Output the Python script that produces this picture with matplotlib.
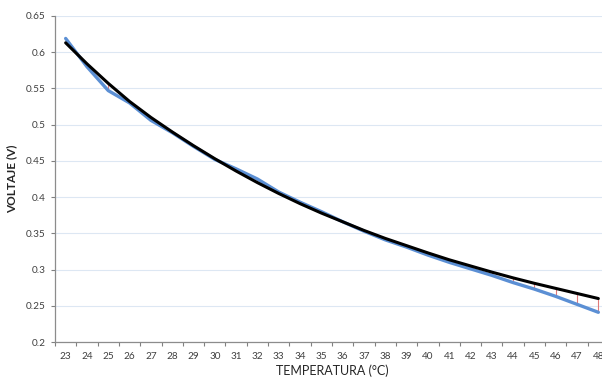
import matplotlib
matplotlib.use("Agg")
import matplotlib.pyplot as plt
import numpy as np

temps = list(range(23, 49))
measured = [0.619, 0.580, 0.547, 0.530, 0.506, 0.489, 0.470, 0.452, 0.439, 0.425,
            0.407, 0.393, 0.380, 0.366, 0.353, 0.341, 0.331, 0.320, 0.310, 0.301,
            0.292, 0.282, 0.273, 0.263, 0.252, 0.241]
fitted = [0.613, 0.584, 0.557, 0.532, 0.510, 0.490, 0.471, 0.453, 0.436, 0.420,
          0.405, 0.391, 0.378, 0.366, 0.354, 0.343, 0.333, 0.323, 0.3135, 0.305,
          0.2965, 0.2885, 0.281, 0.274, 0.267, 0.260]
yticks = [0.2, 0.25, 0.3, 0.35, 0.4, 0.45, 0.5, 0.55, 0.6, 0.65]
ytick_labels = ["0.2", "0.25", "0.3", "0.35", "0.4", "0.45", "0.5", "0.55", "0.6", "0.65"]

plt.rcParams['font.family'] = ['Lato', 'DejaVu Sans']

fig = plt.figure(figsize=(6.02, 3.81), dpi=100)
ax = fig.add_axes([55/602, 1-342/381, 554/602, 326/381])

x = np.arange(len(temps))
ax.vlines(x, measured, fitted, colors='#e07a7a', linewidth=0.8, zorder=2)
ax.plot(x, measured, color='#5b8fd4', linewidth=2.4, zorder=3, solid_capstyle='round')
ax.plot(x, fitted, color='#000000', linewidth=2.2, zorder=4, solid_capstyle='round')

ax.set_xlim(-0.5, len(temps) - 0.5)
ax.set_ylim(0.2, 0.65)
ax.set_yticks(yticks)
ax.set_yticklabels(ytick_labels)
ax.set_xticks(x)
ax.set_xticklabels([str(t) for t in temps])
ax.set_xticks(np.arange(-0.5, len(temps), 1.0), minor=True)
ax.tick_params(axis='x', which='major', length=0, pad=7, labelsize=7.2, colors='#404040')
ax.tick_params(axis='x', which='minor', length=3, color='#808080', width=0.8)
ax.tick_params(axis='y', which='major', length=3, color='#808080', width=0.8, pad=4,
               labelsize=7.2, colors='#404040')
ax.tick_params(axis='y', which='major', labelcolor='#404040')

ax.grid(axis='y', color='#dde7f3', linewidth=0.8)
ax.set_axisbelow(True)
for s in ['top', 'right']:
    ax.spines[s].set_visible(False)
for s in ['left', 'bottom']:
    ax.spines[s].set_color('#8c8c8c')
    ax.spines[s].set_linewidth(0.9)

ax.set_xlabel('TEMPERATURA (°C)', fontsize=9, color='#262626', labelpad=3)
ax.set_ylabel('VOLTAJE (V)', fontsize=8.5, color='#262626', labelpad=6, fontweight='bold')

fig.savefig('out.png', dpi=100)
